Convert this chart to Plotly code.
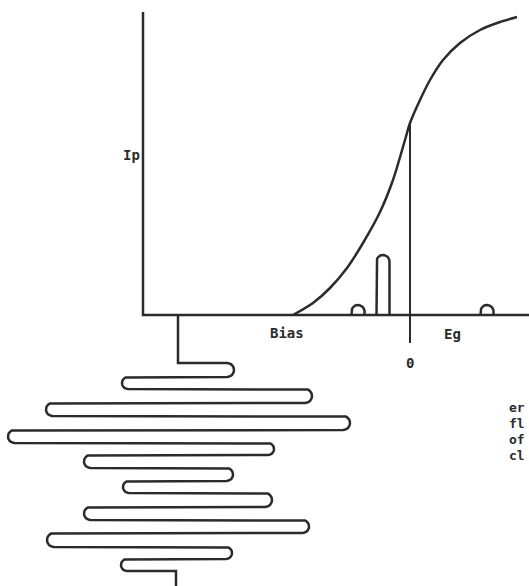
import numpy as np
import plotly.graph_objects as go

# tube characteristic: grid volts (Eg) vs plate current (Ip), diagram units
eg_curve = [-117, -97, -80, -63, -47, -30, -17, -5, 0, 10, 20, 33, 50, 70, 90, 107]
ip_curve = [0, 12, 27, 47, 72, 103, 135, 175, 192, 215, 235, 255, 272, 285, 293, 298]

# plate current pulses sitting on the Eg axis
pulse_eg = [-52, -27, 77]
pulse_ip = [10, 60, 10]

# grid signal drawn below the axis (time runs downward)
bias_eg = -232
swing_eg = [-175, -289, -97, -365, -59, -403, -135, -327,
            -176, -288, -137, -327, -100, -364, -177, -290]
row_t = [-48, -62, -74, -88, -101, -115, -128, -140, -153,
         -166, -178, -192, -205, -218, -232, -244, -256]
end_t = -275

ip_top = 303
eg_axis_left = -267
zero_line_bottom = -28

side_text = ["er", "fl", "of", "cl"]
side_t = [-92, -108, -124, -140]

INK = "#2b2b2b"
FONT = "DejaVu Sans Mono"


def arc(cx, cy, r, a0, a1, n=16):
    th = np.linspace(a0, a1, n)
    return list(cx + r * np.cos(th)), list(cy + r * np.sin(th))


# serpentine signal
sx, sy = [bias_eg, bias_eg], [0, row_t[0]]
for i, ext in enumerate(swing_eg):
    r = (row_t[i] - row_t[i + 1]) / 2
    cy = (row_t[i] + row_t[i + 1]) / 2
    if ext > bias_eg:
        cx = ext - r - 1
        ax, ay = arc(cx, cy, r, np.pi / 2, -np.pi / 2)
    else:
        cx = ext + r + 1
        ax, ay = arc(cx, cy, r, np.pi / 2, 3 * np.pi / 2)
    sx += ax
    sy += ay
sx += [bias_eg - 2, bias_eg - 2]
sy += [row_t[-1], end_t]

# pulses
px, py = [], []
for e, h in zip(pulse_eg, pulse_ip):
    r = 6.5
    ax, ay = arc(e, h - r, r, np.pi, 0)
    px += [e - r] + ax + [e + r, None]
    py += [0] + ay + [0, None]

fig = go.Figure()
line = dict(color=INK, width=2.5)

fig.add_trace(go.Scatter(x=[eg_axis_left, eg_axis_left, 130], y=[ip_top, 0, 0],
                         mode="lines", line=line, hoverinfo="skip"))
fig.add_trace(go.Scatter(x=eg_curve, y=ip_curve, mode="lines",
                         line=dict(color=INK, width=2.5, shape="spline", smoothing=0.8),
                         hoverinfo="skip"))
fig.add_trace(go.Scatter(x=[0, 0], y=[ip_curve[eg_curve.index(0)], zero_line_bottom],
                         mode="lines", line=dict(color=INK, width=2), hoverinfo="skip"))
fig.add_trace(go.Scatter(x=px, y=py, mode="lines", line=line, hoverinfo="skip"))
fig.add_trace(go.Scatter(x=sx, y=sy, mode="lines", line=line, hoverinfo="skip"))

labels = [("Ip", -279, 160), ("Bias", -123, -18), ("Eg", 42, -19), ("0", 0, -48)]
for txt, x, y in labels:
    fig.add_annotation(x=x, y=y, text="<b>%s</b>" % txt, showarrow=False,
                       font=dict(family=FONT, size=14, color=INK))
for txt, y in zip(side_text, side_t):
    fig.add_annotation(x=97, y=y, text="<b>%s</b>" % txt, showarrow=False, xanchor="left",
                       font=dict(family=FONT, size=13, color=INK))

fig.update_layout(
    width=529, height=586, autosize=False,
    margin=dict(l=0, r=0, t=0, b=0),
    paper_bgcolor="white", plot_bgcolor="white",
    showlegend=False,
    xaxis=dict(range=[-410, 119], visible=False, fixedrange=True),
    yaxis=dict(range=[-271, 315], visible=False, fixedrange=True),
)

fig.write_html("out.html", config={"displayModeBar": False},
               post_script="document.body.style.margin='0';")
